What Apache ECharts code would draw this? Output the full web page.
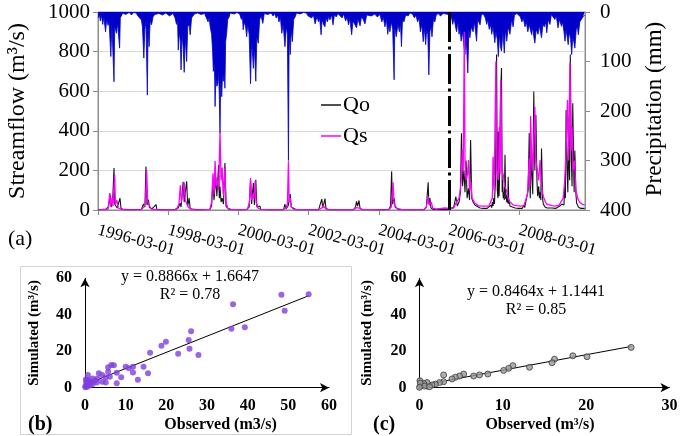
<!DOCTYPE html>
<html><head><meta charset="utf-8">
<script src="https://cdn.jsdelivr.net/npm/echarts@6/dist/echarts.min.js"></script>
<style>html,body{margin:0;padding:0;background:#fff}#c{width:685px;height:436px}</style>
</head><body><div id="c"></div>
<script>
// ---------- DATA ----------
const START_YEAR = 1996.164; // 1996-03-01 as decimal year
const tickLabels = ['1996-03-01','1998-03-01','2000-03-01','2002-03-01','2004-03-01','2006-03-01','2008-03-01'];
const splitYear = 2006.164; // calibration / validation split (dash-dot line)

// precipitation (mm) [decimal year, mm]
const precip = [
[1996.17,12],[1996.20,4],[1996.23,18],[1996.26,6],[1996.30,25],[1996.33,10],[1996.38,40],[1996.41,15],[1996.45,27],[1996.48,20],[1996.53,90],[1996.56,25],[1996.62,141],[1996.64,30],[1996.69,43],[1996.72,22],[1996.78,73],[1996.80,12],[1996.84,16],[1996.87,2],[1996.95,5],[1997.05,1],[1997.12,6],[1997.18,1],
[1997.25,2],[1997.30,8],[1997.35,4],[1997.40,16],[1997.43,30],[1997.47,93],[1997.50,35],[1997.53,20],[1997.57,168],[1997.59,30],[1997.62,70],[1997.65,18],[1997.69,26],[1997.73,10],[1997.78,5],[1997.82,1],[1997.90,3],[1998.00,6],[1998.10,2],[1998.20,8],
[1998.30,3],[1998.36,12],[1998.40,25],[1998.43,15],[1998.45,77],[1998.48,40],[1998.51,60],[1998.53,117],[1998.56,45],[1998.59,70],[1998.62,122],[1998.65,50],[1998.69,100],[1998.72,30],[1998.76,25],[1998.79,46],[1998.83,12],[1998.87,16],[1998.91,4],[1999.00,2],[1999.10,5],[1999.20,3],
[1999.25,5],[1999.30,20],[1999.33,10],[1999.36,30],[1999.40,45],[1999.43,80],[1999.45,120],[1999.48,100],[1999.50,191],[1999.52,130],[1999.55,150],[1999.58,144],[1999.60,120],[1999.62,170],[1999.64,245],[1999.66,140],[1999.69,171],[1999.71,130],[1999.74,140],[1999.76,120],[1999.78,154],[1999.80,60],[1999.83,43],[1999.86,15],[1999.90,10],[1999.93,2],[2000.05,4],[2000.12,1],
[2000.20,4],[2000.25,15],[2000.28,8],[2000.30,36],[2000.33,20],[2000.37,30],[2000.40,50],[2000.43,25],[2000.47,45],[2000.51,145],[2000.54,60],[2000.57,90],[2000.59,114],[2000.62,70],[2000.66,140],[2000.69,50],[2000.73,63],[2000.77,15],[2000.81,8],[2000.86,23],[2000.90,3],[2001.00,5],[2001.10,2],[2001.15,8],
[2001.20,3],[2001.24,12],[2001.28,6],[2001.32,20],[2001.36,10],[2001.40,43],[2001.44,25],[2001.49,70],[2001.53,30],[2001.56,45],[2001.59,300],[2001.61,40],[2001.64,86],[2001.67,35],[2001.70,60],[2001.74,15],[2001.78,10],[2001.82,2],[2001.92,4],[2002.02,1],
[2002.10,2],[2002.15,8],[2002.20,4],[2002.25,12],[2002.30,6],[2002.35,24],[2002.40,10],[2002.45,20],[2002.48,12],[2002.52,46],[2002.55,15],[2002.59,25],[2002.63,30],[2002.66,12],[2002.70,20],[2002.74,8],[2002.77,16],[2002.82,6],[2002.86,26],[2002.90,5],[2002.95,10],[2003.00,3],
[2003.05,5],[2003.12,12],[2003.16,4],[2003.22,18],[2003.26,10],[2003.30,26],[2003.34,14],[2003.39,46],[2003.43,18],[2003.48,22],[2003.53,32],[2003.57,14],[2003.63,28],[2003.67,10],[2003.72,15],[2003.77,24],[2003.82,6],[2003.87,3],[2003.95,8],[2004.05,4],[2004.12,10],
[2004.15,10],[2004.20,5],[2004.25,20],[2004.29,10],[2004.34,30],[2004.38,15],[2004.42,45],[2004.45,25],[2004.48,40],[2004.52,20],[2004.56,35],[2004.60,137],[2004.62,30],[2004.66,50],[2004.71,25],[2004.75,40],[2004.78,20],[2004.81,70],[2004.84,15],[2004.88,20],[2004.93,6],[2005.00,8],[2005.05,2],
[2005.12,4],[2005.18,12],[2005.22,6],[2005.27,20],[2005.31,12],[2005.35,40],[2005.39,25],[2005.43,60],[2005.46,30],[2005.50,66],[2005.53,35],[2005.56,45],[2005.59,127],[2005.62,40],[2005.65,30],[2005.68,50],[2005.72,15],[2005.76,20],[2005.80,6],[2005.86,3],[2005.92,8],[2006.00,3],
[2006.15,5],[2006.19,15],[2006.23,8],[2006.27,25],[2006.31,12],[2006.35,30],[2006.38,40],[2006.42,20],[2006.45,45],[2006.48,35],[2006.51,59],[2006.55,40],[2006.59,70],[2006.62,86],[2006.65,45],[2006.70,123],[2006.73,35],[2006.76,52],[2006.80,30],[2006.85,40],[2006.89,20],[2006.95,59],[2006.98,15],[2007.05,26],[2007.09,4],
[2007.15,5],[2007.20,12],[2007.24,25],[2007.27,15],[2007.31,35],[2007.35,25],[2007.38,45],[2007.42,30],[2007.47,62],[2007.50,40],[2007.54,55],[2007.57,90],[2007.60,45],[2007.63,70],[2007.66,79],[2007.70,40],[2007.74,83],[2007.77,35],[2007.81,59],[2007.85,30],[2007.90,45],[2007.95,15],[2007.99,30],[2008.03,6],[2008.10,3],
[2008.15,4],[2008.20,10],[2008.24,20],[2008.28,12],[2008.33,30],[2008.37,20],[2008.41,40],[2008.45,25],[2008.48,35],[2008.52,46],[2008.55,30],[2008.58,50],[2008.61,63],[2008.65,35],[2008.70,45],[2008.74,28],[2008.77,40],[2008.80,52],[2008.84,25],[2008.88,30],[2008.92,20],[2008.95,42],[2008.99,15],[2009.04,25],[2009.08,5],
[2009.12,5],[2009.18,15],[2009.22,8],[2009.27,32],[2009.31,15],[2009.37,29],[2009.40,20],[2009.44,40],[2009.47,59],[2009.50,35],[2009.53,50],[2009.56,66],[2009.59,40],[2009.63,55],[2009.66,86],[2009.69,50],[2009.72,60],[2009.75,73],[2009.79,35],[2009.82,30],[2009.85,46],[2009.89,20],[2009.94,19],[2009.98,10],[2010.03,6]
];

// observed streamflow Qo (m3/s)
const qo = [
[1996.17,2],[1996.30,3],[1996.40,5],[1996.47,20],[1996.51,77],[1996.54,15],[1996.58,40],[1996.62,212],[1996.64,30],[1996.67,27],[1996.71,10],[1996.79,60],[1996.82,8],[1996.90,3],[1997.10,1],
[1997.40,3],[1997.46,30],[1997.50,15],[1997.53,220],[1997.56,25],[1997.60,52],[1997.63,12],[1997.70,6],[1997.82,27],[1997.84,3],[1998.10,1],
[1998.35,2],[1998.45,10],[1998.50,35],[1998.53,15],[1998.59,143],[1998.62,40],[1998.65,30],[1998.69,145],[1998.72,20],[1998.76,60],[1998.79,8],[1998.88,3],[1999.10,1],
[1999.35,3],[1999.40,20],[1999.44,140],[1999.47,50],[1999.52,168],[1999.55,70],[1999.60,227],[1999.62,60],[1999.64,118],[1999.67,40],[1999.70,60],[1999.74,30],[1999.78,237],[1999.81,20],[1999.84,30],[1999.88,5],[1999.95,2],[2000.20,1],
[2000.40,3],[2000.47,15],[2000.51,150],[2000.54,30],[2000.59,136],[2000.62,25],[2000.66,153],[2000.69,15],[2000.78,20],[2000.80,3],[2001.10,1],
[2001.45,2],[2001.49,30],[2001.52,5],[2001.58,20],[2001.60,10],[2001.64,80],[2001.67,15],[2001.72,5],[2001.80,2],[2002.10,1],
[2002.45,2],[2002.50,10],[2002.54,55],[2002.57,10],[2002.63,58],[2002.66,8],[2002.72,2],[2003.10,1],
[2003.45,2],[2003.50,15],[2003.53,44],[2003.56,20],[2003.60,48],[2003.63,8],[2003.70,2],[2004.10,1],
[2004.45,3],[2004.50,20],[2004.53,195],[2004.55,30],[2004.60,60],[2004.63,15],[2004.70,5],[2004.80,2],[2005.10,1],
[2005.45,2],[2005.52,15],[2005.57,140],[2005.59,30],[2005.62,60],[2005.65,10],[2005.72,3],[2005.90,2],
[2006.10,2],[2006.20,5],[2006.30,15],[2006.36,67],[2006.40,20],[2006.45,40],[2006.49,90],[2006.52,387],[2006.55,120],[2006.59,200],[2006.62,90],[2006.65,250],[2006.68,60],[2006.72,110],[2006.75,50],[2006.78,354],[2006.81,60],[2006.85,40],[2006.90,25],[2006.95,15],[2007.05,10],[2007.15,8],[2007.25,8],
[2007.30,10],[2007.36,25],[2007.38,12],[2007.40,40],[2007.42,20],[2007.44,60],[2007.46,30],[2007.47,80],[2007.49,150],[2007.52,785],[2007.54,100],[2007.56,60],[2007.57,397],[2007.59,70],[2007.60,120],[2007.63,572],[2007.66,717],[2007.68,90],[2007.69,150],[2007.71,60],[2007.73,90],[2007.74,50],[2007.76,279],[2007.78,55],[2007.79,80],[2007.81,40],[2007.82,70],[2007.84,35],[2007.85,168],[2007.87,30],[2007.88,50],[2007.90,20],[2007.92,30],[2007.94,12],[2007.97,15],[2008.05,10],[2008.15,8],
[2008.25,8],[2008.30,25],[2008.32,12],[2008.35,40],[2008.38,50],[2008.40,30],[2008.42,100],[2008.45,389],[2008.47,120],[2008.48,60],[2008.50,300],[2008.53,150],[2008.55,80],[2008.58,598],[2008.61,200],[2008.64,480],[2008.67,150],[2008.69,70],[2008.72,120],[2008.74,60],[2008.76,90],[2008.78,50],[2008.80,311],[2008.83,60],[2008.85,30],[2008.87,40],[2008.90,15],[2008.92,20],[2008.96,10],[2009.00,12],[2009.10,10],[2009.20,8],
[2009.25,8],[2009.32,20],[2009.35,10],[2009.38,30],[2009.42,40],[2009.44,25],[2009.46,120],[2009.48,60],[2009.50,505],[2009.53,200],[2009.55,90],[2009.57,350],[2009.60,150],[2009.62,785],[2009.65,250],[2009.67,120],[2009.69,539],[2009.72,180],[2009.73,90],[2009.75,300],[2009.78,80],[2009.80,35],[2009.83,40],[2009.85,15],[2009.88,20],[2009.92,8],[2009.95,10],[2010.03,8]
];

// simulated streamflow Qs (m3/s)
const qs = [
[1996.17,1],[1996.45,3],[1996.50,86],[1996.53,20],[1996.56,60],[1996.59,20],[1996.64,178],[1996.66,30],[1996.70,50],[1996.74,10],[1996.80,5],[1996.90,2],[1997.10,1],
[1997.40,2],[1997.47,15],[1997.52,40],[1997.55,200],[1997.58,40],[1997.62,25],[1997.68,5],[1997.80,2],[1998.10,1],
[1998.40,2],[1998.47,30],[1998.51,125],[1998.54,40],[1998.58,90],[1998.62,140],[1998.65,50],[1998.69,60],[1998.73,15],[1998.80,5],[1998.90,2],[1999.10,1],
[1999.35,3],[1999.40,40],[1999.44,185],[1999.47,80],[1999.50,247],[1999.53,120],[1999.57,150],[1999.60,100],[1999.64,395],[1999.67,150],[1999.70,215],[1999.73,80],[1999.78,212],[1999.81,40],[1999.86,10],[1999.95,3],[2000.20,1],
[2000.42,3],[2000.48,40],[2000.51,162],[2000.54,50],[2000.58,80],[2000.61,60],[2000.64,145],[2000.67,40],[2000.72,10],[2000.80,3],[2001.10,1],
[2001.45,2],[2001.52,10],[2001.56,30],[2001.59,246],[2001.61,40],[2001.64,60],[2001.67,15],[2001.75,3],[2002.10,1],
[2002.45,2],[2002.54,10],[2002.58,22],[2002.62,15],[2002.66,5],[2002.75,2],[2003.10,1],
[2003.45,2],[2003.52,12],[2003.57,22],[2003.61,10],[2003.68,3],[2004.10,1],
[2004.45,2],[2004.52,15],[2004.57,140],[2004.60,30],[2004.63,25],[2004.68,8],[2004.80,3],[2005.10,1],
[2005.45,2],[2005.52,15],[2005.57,69],[2005.60,25],[2005.66,40],[2005.70,10],[2005.80,5],[2005.95,8],[2006.05,10],
[2006.15,8],[2006.30,10],[2006.35,30],[2006.40,20],[2006.45,60],[2006.48,96],[2006.51,150],[2006.54,300],[2006.57,200],[2006.60,900],[2006.62,250],[2006.65,150],[2006.69,180],[2006.72,252],[2006.75,100],[2006.79,140],[2006.82,60],[2006.86,50],[2006.90,35],[2006.95,25],[2007.00,22],[2007.10,20],[2007.20,20],[2007.30,20],
[2007.35,25],[2007.40,60],[2007.42,269],[2007.45,100],[2007.50,751],[2007.53,200],[2007.57,150],[2007.60,421],[2007.62,180],[2007.64,658],[2007.67,200],[2007.71,178],[2007.75,120],[2007.80,100],[2007.85,60],[2007.90,40],[2007.95,30],[2008.00,25],[2008.10,22],[2008.20,20],[2008.30,22],
[2008.35,30],[2008.40,80],[2008.45,260],[2008.47,120],[2008.49,475],[2008.53,200],[2008.57,300],[2008.61,522],[2008.64,250],[2008.68,200],[2008.72,150],[2008.76,252],[2008.80,120],[2008.85,70],[2008.90,45],[2008.95,30],[2009.00,25],[2009.10,22],[2009.20,20],[2009.30,25],
[2009.35,25],[2009.42,60],[2009.46,150],[2009.50,300],[2009.54,556],[2009.57,250],[2009.61,742],[2009.64,300],[2009.67,421],[2009.70,200],[2009.74,250],[2009.78,100],[2009.83,60],[2009.88,40],[2009.95,30],[2010.03,25]
];

// (b) observed vs simulated
const scatterB = [
[55.0,51.3],[48.3,51.0],[49.1,42.2],[36.4,45.7],[36.0,32.3],[39.3,33.1],[26.1,30.9],[25.5,26.1],[25.7,21.4],[22.9,18.6],[27.9,17.9],[19.9,25.2],[18.8,23.0],[16.0,19.2],[14.4,11.5],[15.5,7.9],[13.0,4.4],[11.8,11.5],[11.8,8.4],[10.8,10.6],[10.0,11.5],[8.9,5.7],[7.8,8.2],[7.8,2.4],[7.1,12.3],[6.5,12.4],[5.7,11.2],[5.7,8.8],[6.1,6.0],[5.1,5.7],[5.1,2.8],[4.2,7.0],[4.2,3.3],[3.4,7.9],[3.0,5.1],[2.9,2.8],[1.8,5.1],[1.5,2.8],[0.7,7.0],[0.6,4.2],[0.5,2.0],[1.0,3.8],[0.1,0.8],[0.1,0.3],[0.3,3.0],[1.2,1.3],[1.9,2.0],[2.4,3.8],[0.6,0.5],[0.2,4.5],[0.4,1.5]
];
const fitB = {slope:0.8866, intercept:1.6647, xEnd:55, r2:'0.78'};

// (c) observed vs simulated
const scatterC = [
[25.4,22.1],[18.4,17.5],[20.1,17.0],[16.2,15.6],[15.9,13.7],[13.2,11.2],[11.2,12.1],[10.7,10.6],[10.1,9.5],[8.2,7.5],[7.2,7.0],[6.5,6.4],[5.3,7.5],[4.8,6.4],[4.3,5.7],[3.9,4.8],[2.9,7.0],[2.9,3.3],[2.4,2.8],[1.9,2.0],[1.5,1.5],[0.9,0.9],[0.9,2.8],[0.5,2.4],[0.1,0.9],[0.05,3.8],[0.1,2.5],[0.6,0.9],[0.0,0.2],[1.2,0.5]
];
const fitC = {slope:0.8464, intercept:1.1441, xEnd:25.4, r2:'0.85'};

// ---------- CHART ----------
const serif = "'Liberation Serif', 'Times New Roman', serif";
const toT = arr => arr.map(([y, v]) => [y - START_YEAR, v]);
const tickVals = tickLabels.map((_, i) => i * 2);
const fitLine = f => [[0, f.intercept], [f.xEnd, f.slope * f.xEnd + f.intercept]];

const chart = echarts.init(document.getElementById('c'), null, {renderer: 'canvas'});
const scAxisLabel = {fontFamily: serif, fontWeight: 'bold', fontSize: 16, color: '#000'};
const scAxisLine = {show: true, symbol: ['none', 'arrow'], symbolSize: [7, 9], lineStyle: {color: '#000', width: 1}};

chart.setOption({
  animation: false,
  textStyle: {fontFamily: serif},
  grid: [
    {left: 98, right: 100, top: 12, height: 198, show: true, borderColor: '#8c8c8c', borderWidth: 1},
    {left: 85, width: 244, top: 278.3, height: 109.4},
    {left: 419.5, width: 250, top: 278.3, height: 109.4}
  ],
  legend: {
    data: ['Qo', 'Qs'], orient: 'vertical', left: 316, top: 89, icon: 'rect', itemWidth: 20, itemHeight: 1.5, itemGap: 9,
    textStyle: {fontFamily: serif, fontSize: 22, lineHeight: 22, color: '#000', padding: [0, 0, 0, -3]}
  },
  xAxis: [
    {gridIndex: 0, type: 'value', min: 0, max: 13.875, interval: 2,
     axisLine: {lineStyle: {color: '#8c8c8c'}},
     axisTick: {show: true, length: 5, customValues: tickVals, lineStyle: {color: '#8c8c8c'}},
     axisLabel: {customValues: tickVals, formatter: v => tickLabels[Math.round(v / 2)] || '', rotate: -15, margin: 20,
                 fontFamily: serif, fontSize: 17, color: '#000'},
     splitLine: {show: false}},
    {gridIndex: 1, type: 'value', min: 0, max: 60, interval: 10, axisLine: scAxisLine, axisTick: {show: false},
     axisLabel: Object.assign({margin: 10}, scAxisLabel), splitLine: {show: false}},
    {gridIndex: 2, type: 'value', min: 0, max: 30, interval: 10, axisLine: scAxisLine, axisTick: {show: false},
     axisLabel: Object.assign({margin: 10}, scAxisLabel), splitLine: {show: false}}
  ],
  yAxis: [
    {gridIndex: 0, type: 'value', min: 0, max: 1000, interval: 200, position: 'left',
     axisLine: {show: true, lineStyle: {color: '#8c8c8c'}},
     axisTick: {show: true, length: 5, lineStyle: {color: '#8c8c8c'}},
     axisLabel: {fontFamily: serif, fontSize: 21, color: '#000', margin: 8, formatter: v => String(v)},
     splitLine: {show: true, lineStyle: {color: '#d9d9d9'}}},
    {gridIndex: 0, type: 'value', min: 0, max: 400, interval: 100, position: 'right', inverse: true,
     axisLine: {show: true, lineStyle: {color: '#8c8c8c'}},
     axisTick: {show: true, length: 5, lineStyle: {color: '#8c8c8c'}},
     axisLabel: {fontFamily: serif, fontSize: 21, color: '#000', margin: 15, formatter: v => String(v)},
     splitLine: {show: false}},
    {gridIndex: 1, type: 'value', min: 0, max: 60, interval: 20, axisLine: scAxisLine, axisTick: {show: false},
     axisLabel: Object.assign({margin: 13}, scAxisLabel), splitLine: {show: false}},
    {gridIndex: 2, type: 'value', min: 0, max: 60, interval: 20, axisLine: scAxisLine, axisTick: {show: false},
     axisLabel: Object.assign({margin: 13}, scAxisLabel), splitLine: {show: false}}
  ],
  series: [
    {name: 'Precipitation', type: 'line', xAxisIndex: 0, yAxisIndex: 1, data: toT(precip), symbol: 'none', z: 1,
     lineStyle: {color: '#0000c8', width: 0.8}, areaStyle: {color: '#0000c8', opacity: 1}},
    {name: 'Qo', type: 'line', xAxisIndex: 0, yAxisIndex: 0, data: toT(qo), symbol: 'none', z: 2,
     color: '#141414', lineStyle: {color: '#141414', width: 1.1},
     markLine: {silent: true, symbol: 'none', label: {show: false},
                lineStyle: {color: '#000', width: 3, type: [30, 4.5, 3, 4.5]},
                data: [{xAxis: splitYear - START_YEAR}]}},
    {name: 'Qs', type: 'line', xAxisIndex: 0, yAxisIndex: 0, data: toT(qs), symbol: 'none', z: 3,
     color: '#ff00ff', lineStyle: {color: '#ff00ff', width: 1.3}},
    {name: 'fitB', type: 'line', xAxisIndex: 1, yAxisIndex: 2, data: fitLine(fitB), symbol: 'none', z: 3,
     lineStyle: {color: '#000', width: 1}},
    {name: 'obsB', type: 'scatter', xAxisIndex: 1, yAxisIndex: 2, data: scatterB, symbolSize: 6, z: 4,
     itemStyle: {color: '#7f3fdc'}},
    {name: 'fitC', type: 'line', xAxisIndex: 2, yAxisIndex: 3, data: fitLine(fitC), symbol: 'none', z: 3,
     lineStyle: {color: '#000', width: 1}},
    {name: 'obsC', type: 'scatter', xAxisIndex: 2, yAxisIndex: 3, data: scatterC, symbolSize: 6, z: 4,
     itemStyle: {color: '#9a9a9a', borderColor: '#3c3c3c', borderWidth: 1}}
  ],
  graphic: [
    {type: 'rect', shape: {x: 20.5, y: 266.5, width: 331, height: 168}, style: {fill: 'none', stroke: '#d4d4d4', lineWidth: 1}, z: 0},
    {type: 'text', x: 18, y: 111, rotation: Math.PI / 2, style: {text: 'Streamflow (m³/s)', font: '24px "Liberation Serif"', fill: '#000', textAlign: 'center', textVerticalAlign: 'middle'}},
    {type: 'text', x: 655, y: 109, rotation: Math.PI / 2, style: {text: 'Precipitation (mm)', font: '23px "Liberation Serif"', fill: '#000', textAlign: 'center', textVerticalAlign: 'middle'}},
    {type: 'text', x: 8, y: 239, style: {text: '(a)', font: '22px "Liberation Serif"', fill: '#000', textAlign: 'left', textVerticalAlign: 'middle'}},
    {type: 'text', x: 190, y: 277, style: {text: 'y = ' + fitB.slope + 'x + ' + fitB.intercept, font: '16px "Liberation Serif"', fill: '#000', textAlign: 'center', textVerticalAlign: 'middle'}},
    {type: 'text', x: 190, y: 295, style: {text: 'R² = ' + fitB.r2, font: '16px "Liberation Serif"', fill: '#000', textAlign: 'center', textVerticalAlign: 'middle'}},
    {type: 'text', x: 536, y: 292, style: {text: 'y = ' + fitC.slope + 'x + ' + fitC.intercept, font: '16px "Liberation Serif"', fill: '#000', textAlign: 'center', textVerticalAlign: 'middle'}},
    {type: 'text', x: 536, y: 309.5, style: {text: 'R² = ' + fitC.r2, font: '16px "Liberation Serif"', fill: '#000', textAlign: 'center', textVerticalAlign: 'middle'}},
    {type: 'text', x: 34, y: 333, rotation: Math.PI / 2, style: {text: 'Simulated (m³/s)', font: 'bold 15px "Liberation Serif"', fill: '#000', textAlign: 'center', textVerticalAlign: 'middle'}},
    {type: 'text', x: 367.5, y: 333, rotation: Math.PI / 2, style: {text: 'Simulated (m³/s)', font: 'bold 15px "Liberation Serif"', fill: '#000', textAlign: 'center', textVerticalAlign: 'middle'}},
    {type: 'text', x: 220.5, y: 425, style: {text: 'Observed (m3/s)', font: 'bold 16px "Liberation Serif"', fill: '#000', textAlign: 'center', textVerticalAlign: 'middle'}},
    {type: 'text', x: 540, y: 425, style: {text: 'Observed (m³/s)', font: 'bold 16px "Liberation Serif"', fill: '#000', textAlign: 'center', textVerticalAlign: 'middle'}},
    {type: 'text', x: 28, y: 425, style: {text: '(b)', font: 'bold 20px "Liberation Serif"', fill: '#000', textAlign: 'left', textVerticalAlign: 'middle'}},
    {type: 'text', x: 373, y: 425, style: {text: '(c)', font: 'bold 20px "Liberation Serif"', fill: '#000', textAlign: 'left', textVerticalAlign: 'middle'}}
  ]
});
</script></body></html>
